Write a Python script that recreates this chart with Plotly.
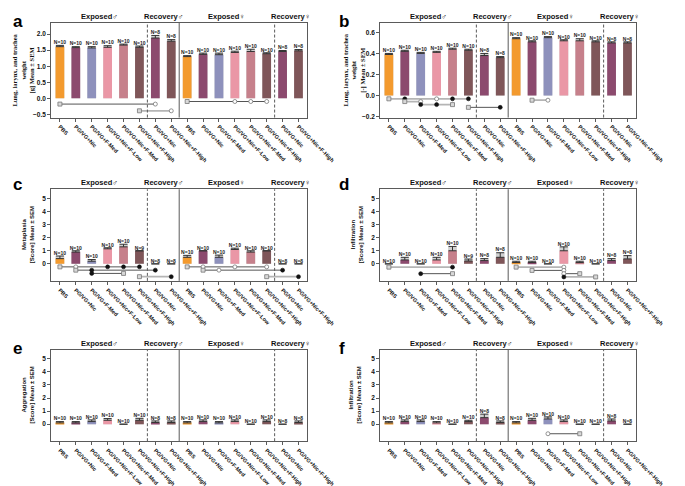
import plotly.graph_objects as go

# ---------------- data ----------------
groups = ["PBS", "PG/VG+Nic", "PG/VG+F-Med", "PG/VG+Nic+F-Low", "PG/VG+Nic+F-Med",
          "PG/VG+Nic+F-High", "PG/VG+Nic", "PG/VG+Nic+F-High"]
tick_labels = groups + groups
section_labels = ["Exposed♂", "Recovery♂", "Exposed♀", "Recovery♀"]
section_centers = [2.5, 6.5, 10.5, 14.5]

bar_colors = ["#F39A2E", "#8C4A6E", "#8E91BC", "#EA97A6", "#C6808B", "#7F5659",
              "#8C4A6E", "#7F5659"] * 2

a_mean = [1.61, 1.58, 1.57, 1.59, 1.66, 1.59, 1.88, 1.78,
          1.30, 1.37, 1.36, 1.43, 1.46, 1.39, 1.46, 1.48]
a_sem = [0.04, 0.03, 0.04, 0.05, 0.03, 0.04, 0.08, 0.05,
         0.03, 0.04, 0.05, 0.04, 0.07, 0.03, 0.03, 0.04]
a_n = [10, 10, 10, 10, 10, 10, 8, 8, 10, 10, 10, 10, 10, 10, 8, 8]

b_mean = [0.39, 0.42, 0.40, 0.41, 0.44, 0.43, 0.38, 0.36,
          0.54, 0.51, 0.55, 0.52, 0.52, 0.51, 0.50, 0.50]
b_sem = [0.01, 0.01, 0.01, 0.01, 0.01, 0.01, 0.02, 0.01,
         0.01, 0.01, 0.01, 0.01, 0.02, 0.01, 0.01, 0.01]
b_n = [10, 10, 10, 10, 10, 10, 8, 8, 10, 10, 10, 10, 10, 10, 8, 8]

c_mean = [0.4, 0.9, 0.2, 1.15, 1.3, 1.0, 0.0, 0.0,
          0.5, 1.0, 0.5, 1.1, 0.9, 1.0, 0.0, 0.0]
c_sem = [0.2, 0.1, 0.13, 0.08, 0.2, 0.0, 0.0, 0.0,
         0.15, 0.0, 0.17, 0.1, 0.1, 0.0, 0.0, 0.0]
c_n = [10, 10, 10, 10, 10, 9, 8, 8, 10, 10, 10, 10, 10, 10, 8, 8]

d_mean = [0.0, 0.3, 0.0, 0.3, 1.0, 0.22, 0.25, 0.5,
          0.1, 0.1, 0.0, 1.0, 0.1, 0.0, 0.25, 0.38]
d_sem = [0.0, 0.2, 0.0, 0.2, 0.33, 0.15, 0.15, 0.35,
         0.1, 0.1, 0.0, 0.3, 0.1, 0.0, 0.15, 0.25]
d_n = [10, 10, 10, 10, 10, 9, 8, 8, 10, 10, 10, 10, 10, 10, 8, 8]

e_mean = [0.1, 0.1, 0.2, 0.3, 0.0, 0.3, 0.13, 0.13,
          0.1, 0.2, 0.1, 0.2, 0.0, 0.2, 0.0, 0.13]
e_sem = [0.1, 0.1, 0.13, 0.13, 0.0, 0.15, 0.12, 0.12,
         0.1, 0.13, 0.1, 0.13, 0.0, 0.13, 0.0, 0.12]
e_n = [10, 10, 10, 10, 10, 10, 8, 8, 10, 10, 10, 10, 10, 10, 8, 8]

f_mean = [0.1, 0.2, 0.2, 0.1, 0.0, 0.2, 0.5, 0.13,
          0.1, 0.3, 0.4, 0.2, 0.0, 0.0, 0.25, 0.0]
f_sem = [0.1, 0.13, 0.13, 0.1, 0.0, 0.1, 0.27, 0.12,
         0.1, 0.15, 0.16, 0.13, 0.0, 0.0, 0.15, 0.0]
f_n = [10, 10, 10, 10, 10, 10, 8, 8, 10, 10, 10, 10, 10, 10, 8, 8]

# significance comparisons: (row, line kind, [(group index, marker kind), ...])
a_comp = [(1, "dark", [(0, "s"), (6, "o")]),
          (2, "light", [(5, "s"), (7, "o")]),
          (0, "dark", [(8, "s"), (11, "o"), (12, "o"), (13, "o")])]
b_comp = [(0, "light", [(0, "s"), (1, "f"), (3, "o"), (4, "f"), (5, "f")]),
          (2, "light", [(1, "s"), (2, "o")]),
          (3, "light", [(2, "f"), (3, "f"), (4, "s")]),
          (4, "dark", [(5, "s"), (7, "f")]),
          (1, "light", [(9, "s"), (10, "o")])]
c_comp = [(0, "dark", [(0, "s"), (1, "o"), (3, "f"), (4, "f"), (5, "f")]),
          (1, "dark", [(1, "s"), (2, "f"), (6, "f")]),
          (2, "dark", [(2, "f"), (4, "s")]),
          (3, "light", [(5, "s"), (7, "f")]),
          (0, "dark", [(8, "s"), (9, "o"), (11, "o"), (13, "o")]),
          (1, "dark", [(9, "s"), (10, "o"), (14, "f")]),
          (3, "light", [(13, "s"), (15, "f")])]
d_comp = [(0, "light", [(0, "s"), (4, "f")]),
          (2, "dark", [(2, "f"), (4, "s")]),
          (0, "light", [(8, "s"), (11, "o")]),
          (1, "dark", [(9, "s"), (11, "o")]),
          (2, "dark", [(11, "o"), (12, "s")]),
          (3, "light", [(11, "f"), (13, "s")])]
e_comp = []
f_comp = [(0, "dark", [(10, "o"), (12, "s")])]

# ---------------- layout config ----------------
W, H = 685, 486
LEFT = [45 / W, 312 / W]
RIGHT = [388 / W, 655 / W]
ROW1 = [1 - 110 / H, 1 - 15 / H]
ROW2 = [1 - 274 / H, 1 - 182 / H]
ROW3 = [1 - 435 / H, 1 - 343 / H]

score_ticks = [0, 1, 2, 3, 4, 5]
panels = [
    dict(letter="a", mean=a_mean, sem=a_sem, n=a_n, comp=a_comp, xd=LEFT, yd=ROW1,
         yr=[-0.6, 2.35], tv=[-0.5, 0, 0.5, 1.0, 1.5, 2.0], tf=".1f",
         rows=[-0.1, -0.18, -0.39],
         title="Lung, larynx, and trachea<br>weight<br>[g] Mean ± SEM", serif=True,
         tx=16, lx=3, ly=2),
    dict(letter="b", mean=b_mean, sem=b_sem, n=b_n, comp=b_comp, xd=RIGHT, yd=ROW1,
         yr=[-0.21, 0.69], tv=[-0.2, 0, 0.2, 0.4, 0.6], tf=".1f",
         rows=[-0.032, -0.045, -0.058, -0.087, -0.113],
         title="Lung, larynx, and trachea<br>weight<br>[-] Mean ± SEM", serif=True,
         tx=361, lx=343, ly=2),
    dict(letter="c", mean=c_mean, sem=c_sem, n=c_n, comp=c_comp, xd=LEFT, yd=ROW2,
         yr=[-1.3, 5.7], tv=score_ticks, tf="d", rows=[-0.23, -0.48, -0.73, -0.98],
         title="Metaplasia<br>[Score] Mean ± SEM", serif=False, tx=21, lx=3, ly=166),
    dict(letter="d", mean=d_mean, sem=d_sem, n=d_n, comp=d_comp, xd=RIGHT, yd=ROW2,
         yr=[-1.3, 5.7], tv=score_ticks, tf="d", rows=[-0.25, -0.5, -0.75, -1.0],
         title="Infiltration<br>[Score] Mean ± SEM", serif=False, tx=364, lx=343, ly=166),
    dict(letter="e", mean=e_mean, sem=e_sem, n=e_n, comp=e_comp, xd=LEFT, yd=ROW3,
         yr=[-1.3, 5.7], tv=score_ticks, tf="d", rows=[],
         title="Aggregation<br>[Score] Mean ± SEM", serif=False, tx=21, lx=3, ly=330),
    dict(letter="f", mean=f_mean, sem=f_sem, n=f_n, comp=f_comp, xd=RIGHT, yd=ROW3,
         yr=[-1.3, 5.7], tv=score_ticks, tf="d", rows=[-0.73],
         title="Infiltration<br>[Score] Mean ± SEM", serif=False, tx=362, lx=343, ly=330),
]

SANS = "Liberation Sans"
SERIF = "Liberation Serif"
FRAME = "#5a5a5a"
xs = list(range(16))

fig = go.Figure()
layout = dict(width=W, height=H, margin=dict(l=0, r=0, t=0, b=0),
              paper_bgcolor="white", plot_bgcolor="white", showlegend=False,
              barmode="overlay", annotations=[], shapes=[])

marker_styles = {
    "f": dict(symbol="circle", size=4, color="#111111", line=dict(color="#111111", width=0.6)),
    "o": dict(symbol="circle", size=4, color="white", line=dict(color="#777777", width=0.8)),
    "s": dict(symbol="square", size=4, color="#d8d8d8", line=dict(color="#777777", width=0.8)),
}
line_styles = {"dark": dict(color="#555555", width=1),
               "light": dict(color="#b5b5b5", width=1.8)}

for i, p in enumerate(panels):
    k = "" if i == 0 else str(i + 1)
    xa, ya = "x" + k, "y" + k
    top = [m + s for m, s in zip(p["mean"], p["sem"])]
    # SEM band behind bar
    fig.add_trace(go.Bar(x=xs, y=top, width=0.55, marker=dict(color="#d0d0d0", line=dict(width=0)),
                         xaxis=xa, yaxis=ya, hoverinfo="skip"))
    fig.add_trace(go.Bar(x=xs, y=p["mean"], width=0.55,
                         marker=dict(color=bar_colors, line=dict(width=0)),
                         xaxis=xa, yaxis=ya))
    fig.add_trace(go.Scatter(x=xs, y=p["mean"], mode="markers", marker=dict(size=1, opacity=0),
                             error_y=dict(type="data", symmetric=False, array=p["sem"],
                                          arrayminus=[0] * 16, color="#333333",
                                          thickness=1, width=4),
                             xaxis=xa, yaxis=ya, hoverinfo="skip"))
    fig.add_trace(go.Scatter(x=xs, y=top, mode="text", text=[f"N={v}" for v in p["n"]],
                             textposition="top center",
                             textfont=dict(family=SANS, size=5, color="#222222", weight="bold"),
                             xaxis=xa, yaxis=ya, hoverinfo="skip"))
    # comparisons
    for row, lk, pts in p["comp"]:
        yv = p["rows"][row]
        idx = [q[0] for q in pts]
        fig.add_trace(go.Scatter(x=[min(idx), max(idx)], y=[yv, yv], mode="lines",
                                 line=line_styles[lk], xaxis=xa, yaxis=ya, hoverinfo="skip"))
        for gi, mk in pts:
            fig.add_trace(go.Scatter(x=[gi], y=[yv], mode="markers", marker=marker_styles[mk],
                                     xaxis=xa, yaxis=ya, hoverinfo="skip"))
    xname = "xaxis" + k
    yname = "yaxis" + k
    layout[xname] = dict(domain=p["xd"], anchor=ya, range=[-0.55, 15.55],
                         tickmode="array", tickvals=xs, ticktext=tick_labels, tickangle=45,
                         tickfont=dict(family=SANS, size=5.5, color="#111111", weight="bold"),
                         showline=True, mirror=True, linecolor=FRAME, linewidth=1,
                         ticks="outside", ticklen=3, tickcolor=FRAME, showgrid=False,
                         zeroline=False, fixedrange=True)
    layout[yname] = dict(domain=p["yd"], anchor=xa, range=p["yr"],
                         tickmode="array", tickvals=p["tv"], tickformat=p["tf"],
                         tickfont=dict(family=SANS, size=6.5, color="#111111", weight="bold"),
                         showline=True, mirror=True, linecolor=FRAME, linewidth=1,
                         ticks="outside", ticklen=3, tickcolor=FRAME, showgrid=False,
                         zeroline=False, fixedrange=True)
    # separators
    for xv, dash in [(5.5, "3px,2px"), (7.5, "solid"), (13.5, "3px,2px")]:
        layout["shapes"].append(dict(type="line", xref=xa, yref=ya + " domain", x0=xv, x1=xv,
                                     y0=0, y1=1, line=dict(color=FRAME, width=1, dash=dash)))
    # section titles
    for lab, cx in zip(section_labels, section_centers):
        layout["annotations"].append(dict(text=lab, x=cx, xref=xa, y=p["yd"][1], yref="paper",
                                          yanchor="bottom", xanchor="center", showarrow=False,
                                          yshift=0,
                                          font=dict(family=SANS, size=7.5, color="#111111", weight="bold")))
    # y-axis title
    layout["annotations"].append(dict(text=p["title"], x=p["tx"] / W, xref="paper",
                                      y=(p["yd"][0] + p["yd"][1]) / 2, yref="paper",
                                      textangle=-90, showarrow=False, xanchor="center",
                                      yanchor="middle",
                                      font=dict(family=SERIF if p["serif"] else SANS,
                                                size=6.5 if p["serif"] else 6,
                                                color="#111111", weight="bold")))
    # panel letter
    layout["annotations"].append(dict(text=p["letter"], x=p["lx"] / W, xref="paper",
                                      y=1 - p["ly"] / H, yref="paper", xanchor="left",
                                      yanchor="top", showarrow=False,
                                      font=dict(family=SANS, size=17, color="#000000", weight="bold")))

fig.update_layout(**layout)
fig.write_html("out.html")
